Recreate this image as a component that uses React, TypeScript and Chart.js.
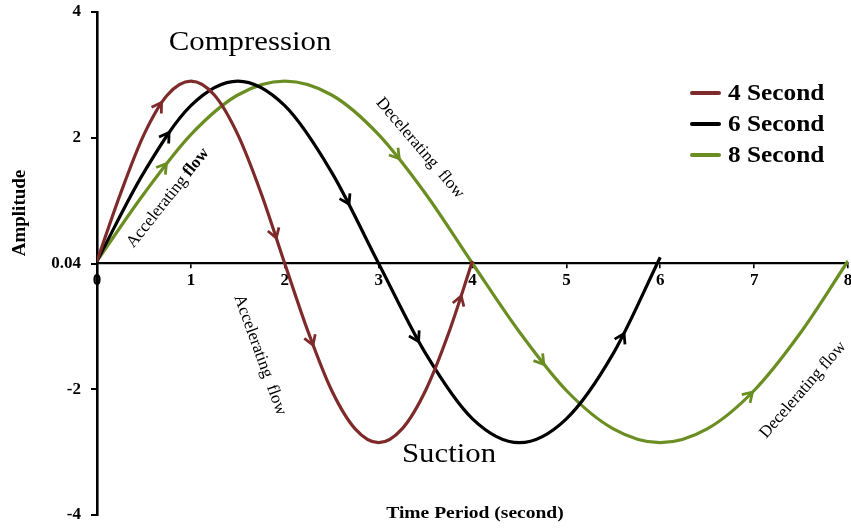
import React, { useEffect, useRef } from 'react';
import { Chart, registerables } from 'chart.js';

Chart.register(...registerables);

// ---- data ----
const times4 = [0, 0.25, 0.5, 0.75, 1, 1.25, 1.5, 1.75, 2, 2.25, 2.5, 2.75, 3, 3.25, 3.5, 3.75, 4];
const amp4 = [0.04, 1.11, 2.05, 2.68, 2.9, 2.68, 2.05, 1.11, 0.0, -1.09, -2.02, -2.63, -2.85, -2.63, -2.02, -1.09, 0.04];

const times6 = [0, 0.5, 1, 1.5, 2, 2.5, 3, 3.5, 4, 4.5, 5, 5.5, 6];
const amp6 = [0.04, 1.45, 2.51, 2.9, 2.51, 1.45, 0.0, -1.43, -2.47, -2.85, -2.47, -1.43, 0.1];

const times8 = [0, 0.5, 1, 1.5, 2, 2.5, 3, 3.5, 4, 4.5, 5, 5.5, 6, 6.5, 7, 7.5, 8];
const amp8 = [0.04, 1.11, 2.05, 2.68, 2.9, 2.68, 2.05, 1.11, 0.0, -1.09, -2.02, -2.63, -2.85, -2.63, -2.02, -1.09, 0.04];

const seriesNames = ['4 Second', '6 Second', '8 Second'];
const seriesColors = ['#7f2a2a', '#000000', '#6b8e23'];

const arrowTimes4 = [0.67, 1.9, 2.29, 3.87];
const arrowTimes6 = [0.75, 2.67, 3.41, 5.6];
const arrowTimes8 = [0.72, 3.2, 4.74, 6.96];

const xTickValues = [0, 1, 2, 3, 4, 5, 6, 7, 8];
const yTickValues = [-4, -2, 0, 2, 4];
const yTickLabels = ['-4', '-2', '0.04', '2', '4'];

const xTitle = 'Time Period (second)';
const yTitle = 'Amplitude';

const SERIF = "'Liberation Serif', 'Times New Roman', serif";

function toPoints(ts: number[], vs: number[]) {
  return ts.map((t, i) => ({ x: t, y: vs[i] }));
}

function drawStretched(
  ctx: CanvasRenderingContext2D,
  text: string,
  x: number,
  y: number,
  font: string,
  angleDeg: number,
  sx: number,
  color = '#000'
) {
  ctx.save();
  ctx.translate(x, y);
  ctx.rotate((angleDeg * Math.PI) / 180);
  ctx.scale(sx, 1);
  ctx.font = font;
  ctx.fillStyle = color;
  ctx.textAlign = 'center';
  ctx.textBaseline = 'middle';
  ctx.fillText(text, 0, 0);
  ctx.restore();
}

function drawTwoPart(
  ctx: CanvasRenderingContext2D,
  a: string,
  fontA: string,
  b: string,
  fontB: string,
  x: number,
  y: number,
  angleDeg: number
) {
  ctx.save();
  ctx.translate(x, y);
  ctx.rotate((angleDeg * Math.PI) / 180);
  ctx.fillStyle = '#000';
  ctx.textBaseline = 'middle';
  ctx.textAlign = 'left';
  ctx.font = fontA;
  const wa = ctx.measureText(a).width;
  ctx.font = fontB;
  const wb = ctx.measureText(b).width;
  const start = -(wa + wb) / 2;
  ctx.font = fontA;
  ctx.fillText(a, start, 0);
  ctx.font = fontB;
  ctx.fillText(b, start + wa, 0);
  ctx.restore();
}

const arrowPlugin = {
  id: 'flowArrows',
  afterDatasetsDraw(chart: any) {
    const ctx: CanvasRenderingContext2D = chart.ctx;
    const xScale = chart.scales.x;
    const sets = [arrowTimes4, arrowTimes6, arrowTimes8];
    sets.forEach((times, i) => {
      const meta = chart.getDatasetMeta(i);
      const line = meta.dataset;
      if (!line) return;
      times.forEach((t) => {
        const px = xScale.getPixelForValue(t);
        const get = (v: number) => {
          const r = line.interpolate({ x: v }, 'x');
          return Array.isArray(r) ? r[0] : r;
        };
        const p = get(px);
        const a = get(px - 2);
        const b = get(px + 2);
        if (!p || !a || !b) return;
        let dx = b.x - a.x;
        let dy = b.y - a.y;
        const len = Math.hypot(dx, dy) || 1;
        dx /= len;
        dy /= len;
        const L = 11;
        const ang = (32 * Math.PI) / 180;
        const tipX = p.x + dx * 3;
        const tipY = p.y + dy * 3;
        const rot = (s: number) => {
          const c = Math.cos(s * ang);
          const sn = Math.sin(s * ang);
          return { x: dx * c - dy * sn, y: dx * sn + dy * c };
        };
        const r1 = rot(1);
        const r2 = rot(-1);
        ctx.save();
        ctx.strokeStyle = seriesColors[i];
        ctx.lineWidth = 2.8;
        ctx.lineJoin = 'miter';
        ctx.lineCap = 'butt';
        ctx.beginPath();
        ctx.moveTo(tipX - r1.x * L, tipY - r1.y * L);
        ctx.lineTo(tipX, tipY);
        ctx.lineTo(tipX - r2.x * L, tipY - r2.y * L);
        ctx.stroke();
        ctx.restore();
      });
    });
  },
};

const annotationPlugin = {
  id: 'annotations',
  afterDraw(chart: any) {
    const ctx: CanvasRenderingContext2D = chart.ctx;
    // big labels
    drawStretched(ctx, 'Compression', 250, 43, `28px ${SERIF}`, 0, 1.1);
    drawStretched(ctx, 'Suction', 449, 455, `28px ${SERIF}`, 0, 1.1);
    // rotated flow labels
    drawTwoPart(ctx, 'Accelerating ', `17px ${SERIF}`, 'flow', `bold 17px ${SERIF}`, 168, 198, -51.5);
    drawStretched(ctx, 'Decelerating  flow', 420, 148, `17px ${SERIF}`, 49.5, 1);
    drawStretched(ctx, 'Accelerating  flow', 260, 355, `17px ${SERIF}`, 70, 1);
    drawStretched(ctx, 'Decelerating flow', 803, 390, `17px ${SERIF}`, -49, 1);
    // axis titles
    drawStretched(ctx, yTitle, 20, 213, `bold 19px ${SERIF}`, -90, 1);
    drawStretched(ctx, xTitle, 475, 514, `bold 16px ${SERIF}`, 0, 1.22);
    // legend
    const rows = [93, 124, 155];
    seriesNames.forEach((name, i) => {
      const y = rows[i];
      ctx.save();
      ctx.strokeStyle = seriesColors[i];
      ctx.lineWidth = 4;
      ctx.lineCap = 'round';
      ctx.beginPath();
      ctx.moveTo(692, y);
      ctx.lineTo(719, y);
      ctx.stroke();
      ctx.translate(728, y);
      ctx.scale(1.1, 1);
      ctx.font = `bold 23px ${SERIF}`;
      ctx.fillStyle = '#000';
      ctx.textAlign = 'left';
      ctx.textBaseline = 'middle';
      ctx.fillText(name, 0, 1);
      ctx.restore();
    });
  },
};

export default function App() {
  const canvasRef = useRef<HTMLCanvasElement | null>(null);

  useEffect(() => {
    document.body.style.margin = '0';
    const canvas = canvasRef.current;
    if (!canvas) return;
    const chart = new Chart(canvas, {
      type: 'line',
      data: {
        datasets: [
          { label: seriesNames[0], data: toPoints(times4, amp4), borderColor: seriesColors[0] },
          { label: seriesNames[1], data: toPoints(times6, amp6), borderColor: seriesColors[1] },
          { label: seriesNames[2], data: toPoints(times8, amp8), borderColor: seriesColors[2] },
        ],
      },
      options: {
        animation: false,
        responsive: false,
        devicePixelRatio: 1,
        layout: { padding: { top: 12, bottom: 15, right: 3, left: 0 } },
        elements: {
          point: { radius: 0, hoverRadius: 0 },
          line: { borderWidth: 3.2, cubicInterpolationMode: 'monotone', fill: false },
        },
        plugins: {
          legend: { display: false },
          tooltip: { enabled: false },
          title: { display: false },
        },
        events: [],
        scales: {
          x: {
            type: 'linear',
            min: 0,
            max: 8,
            position: { y: 0 } as any,
            afterBuildTicks: (s: any) => {
              s.ticks = xTickValues.map((v) => ({ value: v }));
            },
            afterFit: (s: any) => {
              s.paddingLeft = 0;
              s.paddingRight = 0;
              s.paddingTop = 0;
              s.paddingBottom = 0;
            },
            border: { display: true, color: '#000', width: 2.2 },
            grid: { drawOnChartArea: false, drawTicks: true, tickLength: 4, color: '#000', lineWidth: 1.6 },
            ticks: {
              color: '#000',
              font: { family: SERIF, size: 17, weight: 'bold' },
              padding: 3,
              maxRotation: 0,
              autoSkip: false,
              callback: (v: any) => String(v),
            },
          },
          y: {
            type: 'linear',
            min: -4,
            max: 4,
            position: 'left',
            afterBuildTicks: (s: any) => {
              s.ticks = yTickValues.map((v) => ({ value: v }));
            },
            afterFit: (s: any) => {
              s.width = 97;
              s.paddingTop = 0;
              s.paddingBottom = 0;
            },
            border: { display: true, color: '#000', width: 2.6 },
            grid: { drawOnChartArea: false, drawTicks: true, tickLength: 6, color: '#000', lineWidth: 2 },
            ticks: {
              color: '#000',
              font: { family: SERIF, size: 17, weight: 'bold' },
              padding: 10,
              autoSkip: false,
              callback: (v: any) => {
                const i = yTickValues.indexOf(Number(v));
                return i >= 0 ? yTickLabels[i] : '';
              },
            },
          },
        },
      },
      plugins: [arrowPlugin, annotationPlugin],
    });
    return () => chart.destroy();
  }, []);

  return (
    <div style={{ width: 851, height: 530 }}>
      <canvas ref={canvasRef} width={851} height={530} style={{ display: 'block', width: 851, height: 530 }} />
    </div>
  );
}
